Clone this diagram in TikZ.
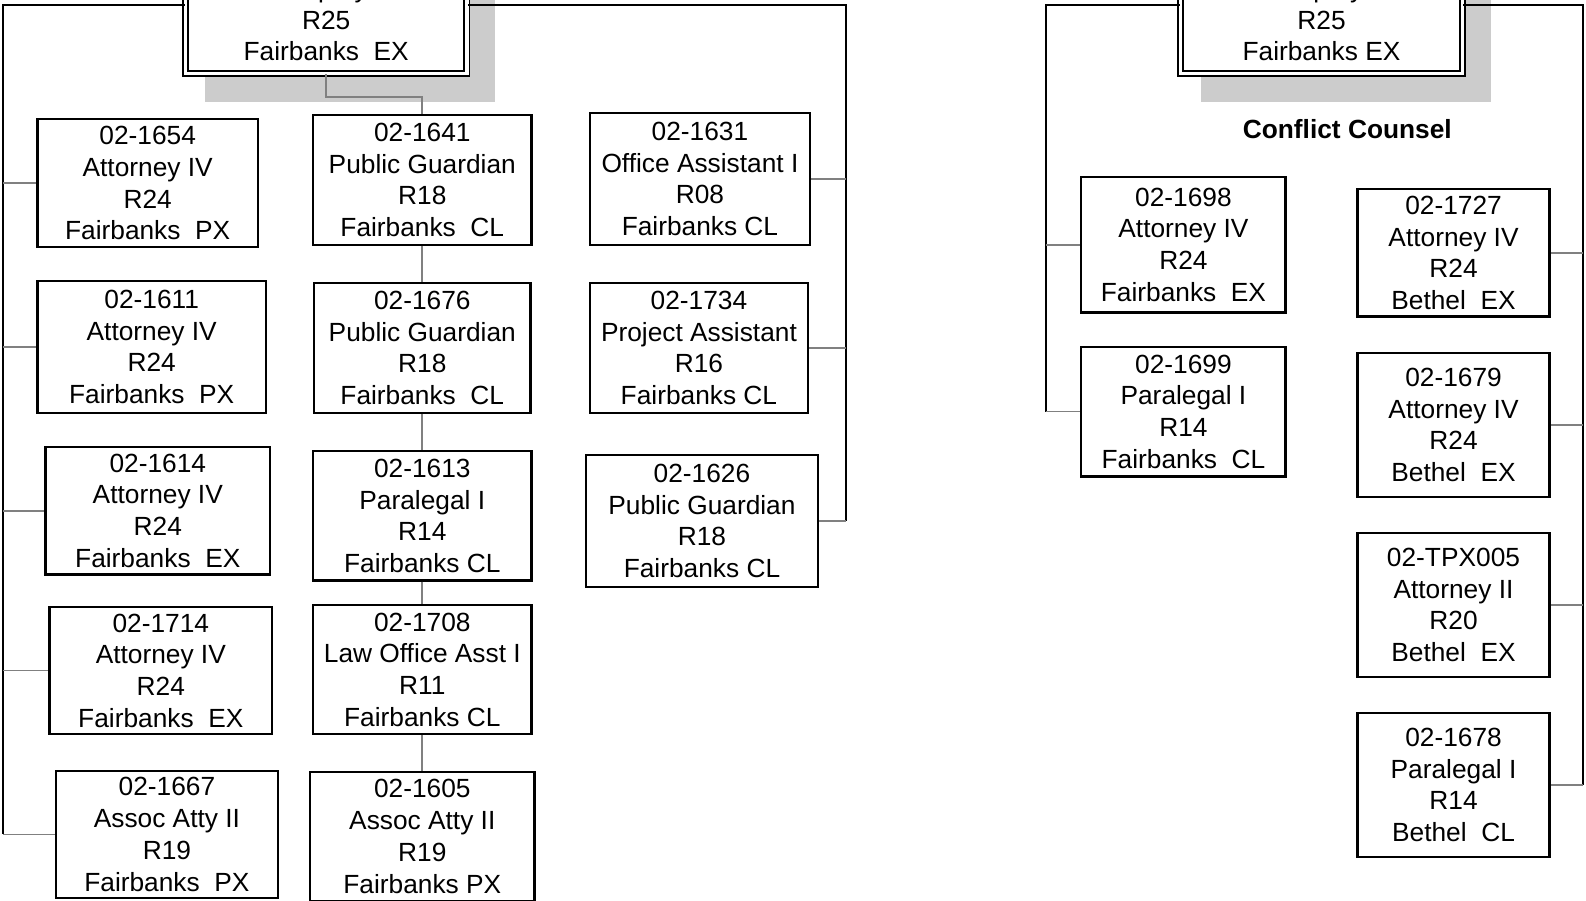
\documentclass[tikz,border=0pt]{standalone}
\usepackage{fontspec}
\setmainfont{Liberation Sans}
\definecolor{shadegray}{HTML}{CCCCCC}
\definecolor{linkgray}{HTML}{808080}
\begin{document}
\begin{tikzpicture}[x=0.5pt,y=-0.5pt,
  txt/.style={font=\fontsize{13}{15.7}\selectfont},
  pbox/.style={txt,draw=black,line width=1.1pt,fill=white,inner sep=0pt,align=center},
  topbox/.style={txt,draw=black,double=white,line width=0.9pt,double distance=1.6pt,fill=white,inner sep=0pt,align=center,minimum width=139.1pt,minimum height=52.6pt},
  bus/.style={draw=black,line width=1pt},
  branch/.style={draw=linkgray,line width=0.8pt}]
\useasboundingbox (0,0) rectangle (1568,890);
\clip (0,0) rectangle (1568,890);

% shadows
\fill[shadegray] (203,-40) rectangle (489,101);
\fill[shadegray] (1187,-40) rectangle (1474,101);

% connectors
\coordinate (L1) at (3,5);
\coordinate (R1) at (836,5);
\coordinate (L2) at (1034,5);
\coordinate (R2) at (1565,5);
\coordinate (kink) at (0,96);

% top boxes
\node[topbox] (T1) at (322.5,20) {Deputy\\R25\\Fairbanks\ \ EX};
\node[topbox] (T2) at (1306.5,20) {Deputy\\R25\\Fairbanks EX};

\node[txt,font=\bfseries\fontsize{13}{15.7}\selectfont] (cc) at (1332,128) {Conflict Counsel};

% left column
\node[pbox,minimum width=109pt,minimum height=63pt] (a1) at (146,181) {02-1654\\Attorney IV\\R24\\Fairbanks\ \ PX};
\node[pbox,minimum width=113pt,minimum height=65pt] (a2) at (150,343) {02-1611\\Attorney IV\\R24\\Fairbanks\ \ PX};
\node[pbox,minimum width=111pt,minimum height=63pt] (a3) at (156,505) {02-1614\\Attorney IV\\R24\\Fairbanks\ \ EX};
\node[pbox,minimum width=110pt,minimum height=63pt] (a4) at (159,663) {02-1714\\Attorney IV\\R24\\Fairbanks\ \ EX};
\node[pbox,minimum width=110pt,minimum height=63pt] (a5) at (165,825) {02-1667\\Assoc Atty II\\R19\\Fairbanks\ \ PX};

% middle column
\node[pbox,minimum width=108pt,minimum height=64pt] (b1) at (417.5,178) {02-1641\\Public Guardian\\R18\\Fairbanks\ \ CL};
\node[pbox,minimum width=107pt,minimum height=64pt] (b2) at (417.5,344) {02-1676\\Public Guardian\\R18\\Fairbanks\ \ CL};
\node[pbox,minimum width=108pt,minimum height=64pt] (b3) at (417.5,510) {02-1613\\Paralegal I\\R14\\Fairbanks CL};
\node[pbox,minimum width=108pt,minimum height=64pt] (b4) at (417.5,662) {02-1708\\Law Office Asst I\\R11\\Fairbanks CL};
\node[pbox,minimum width=111pt,minimum height=64pt] (b5) at (417.5,827) {02-1605\\Assoc Atty II\\R19\\Fairbanks PX};

% right column (left part)
\node[pbox,minimum width=109pt,minimum height=65pt] (c1) at (692,177) {02-1631\\Office Assistant I\\R08\\Fairbanks CL};
\node[pbox,minimum width=108pt,minimum height=64pt] (c2) at (691,344) {02-1734\\Project Assistant\\R16\\Fairbanks CL};
\node[pbox,minimum width=115pt,minimum height=65pt] (c3) at (694,515) {02-1626\\Public Guardian\\R18\\Fairbanks CL};

% conflict counsel part
\node[pbox,minimum width=101pt,minimum height=67pt] (d1) at (1170,242) {02-1698\\Attorney IV\\R24\\Fairbanks\ \ EX};
\node[pbox,minimum width=101pt,minimum height=64pt] (d2) at (1170,407) {02-1699\\Paralegal I\\R14\\Fairbanks\ \ CL};

\node[pbox,minimum width=95pt,minimum height=63pt] (e1) at (1437,250) {02-1727\\Attorney IV\\R24\\Bethel\ \ EX};
\node[pbox,minimum width=95pt,minimum height=71pt] (e2) at (1437,420) {02-1679\\Attorney IV\\R24\\Bethel\ \ EX};
\node[pbox,minimum width=95pt,minimum height=71pt] (e3) at (1437,598) {02-TPX005\\Attorney II\\R20\\Bethel\ \ EX};
\node[pbox,minimum width=95pt,minimum height=71pt] (e4) at (1437,776) {02-1678\\Paralegal I\\R14\\Bethel\ \ CL};

\draw[bus] (T1.west |- L1) -- (L1) -- (L1 |- a5.west);
\foreach \n in {a1,a2,a3,a4,a5} \draw[branch] (L1 |- \n.west) -- (\n.west);

\draw[bus] (T1.east |- R1) -- (R1) -- (R1 |- c3.east);
\foreach \n in {c1,c2,c3} \draw[branch] (R1 |- \n.east) -- (\n.east);

\draw[branch] (T1.south) -- (T1.south |- kink) -- (b1.north |- kink) -- (b1.north);
\draw[branch] (b1.south) -- (b2.north);
\draw[branch] (b2.south) -- (b3.north);
\draw[branch] (b3.south) -- (b4.north);
\draw[branch] (b4.south) -- (b5.north);

\draw[bus] (T2.west |- L2) -- (L2) -- (L2 |- d2.west);
\foreach \n in {d1,d2} \draw[branch] (L2 |- \n.west) -- (\n.west);

\draw[bus] (T2.east |- R2) -- (R2) -- (R2 |- e4.east);
\foreach \n in {e1,e2,e3,e4} \draw[branch] (R2 |- \n.east) -- (\n.east);
\end{tikzpicture}
\end{document}
